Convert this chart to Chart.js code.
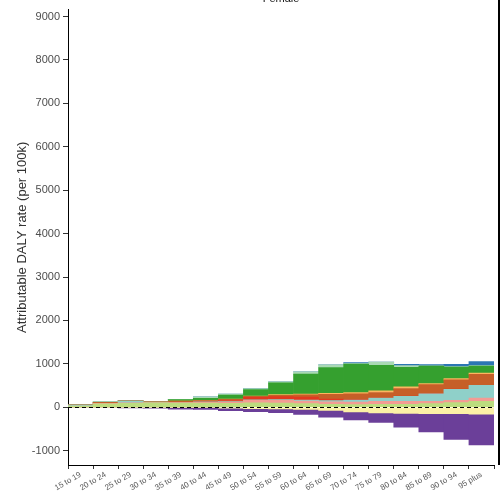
<!DOCTYPE html>
<html>
<head>
<meta charset="utf-8">
<script src="https://cdn.jsdelivr.net/npm/chart.js@4.4.1/dist/chart.umd.min.js"></script>
<style>
  html,body{margin:0;padding:0;background:#fff;}
  #wrap{width:500px;height:496px;}
</style>
</head>
<body>
<div id="wrap"><canvas id="c" width="500" height="496"></canvas></div>
<script>
const ageGroups = ["15 to 19","20 to 24","25 to 29","30 to 34","35 to 39","40 to 44","45 to 49","50 to 54","55 to 59",
  "60 to 64","65 to 69","70 to 74","75 to 79","80 to 84","85 to 89","90 to 94","95 plus"];

// positive risk layers, bottom to top
const yellowGreen = [30,80,90,100,95,95,90,100,95,85,70,62,69,69,84,107,137];
const salmon      = [0,10,10,10,15,20,30,60,65,60,53,60,69,69,53,53,76];
const lightTeal   = [20,0,45,10,0,10,10,10,15,20,30,45,75,115,175,252,290];
const red         = [0,0,0,0,0,10,25,60,70,70,38,10,5,5,5,5,5];
const brown       = [0,25,0,5,30,20,25,20,30,50,107,130,122,175,206,214,252];
const orangeLine  = [0,0,0,0,0,5,10,10,15,20,23,30,38,38,23,30,30];
const green       = [5,5,5,10,35,45,90,150,270,460,595,660,585,450,400,265,160];
const mint        = [0,0,0,0,5,38,25,20,25,50,60,10,75,38,10,10,10];
const blue        = [0,0,0,0,0,0,0,0,0,0,0,23,0,30,30,53,92];

// negative (protective) layers
const paleYellow  = [-5,-5,-5,-5,-10,-10,-20,-30,-40,-50,-70,-110,-130,-140,-150,-150,-160];
const purple      = [-5,-5,-10,-15,-35,-40,-60,-70,-85,-115,-160,-180,-220,-320,-420,-590,-710];

const yTicks = [-1000,0,1000,2000,3000,4000,5000,6000,7000,8000,9000];

const layers = [
  [yellowGreen,"#bcdc7e"],[salmon,"#f39c94"],[lightTeal,"#8fd0c9"],[red,"#e2381f"],
  [brown,"#c65f28"],[orangeLine,"#fdb55f"],[green,"#35a02f"],[mint,"#a9d9b4"],[blue,"#2c76b3"],
  [paleYellow,"#fcf1a6"],[purple,"#6b3f99"]
];

const FONT = "'Liberation Sans', Arial, sans-serif";

const zeroLine = {
  id:"zeroLine",
  afterDatasetsDraw(chart){
    const {ctx, chartArea:a, scales:{y}} = chart;
    const py = Math.round(y.getPixelForValue(0))+0.5;
    ctx.save();
    ctx.strokeStyle="#000"; ctx.lineWidth=1.2; ctx.setLineDash([4,3]);
    ctx.beginPath(); ctx.moveTo(a.left,py); ctx.lineTo(a.right,py); ctx.stroke();
    ctx.setLineDash([]);
    // edge of the neighbouring panel
    ctx.lineWidth=2;
    ctx.beginPath(); ctx.moveTo(499,0); ctx.lineTo(499,a.bottom); ctx.stroke();
    // cut-off panel title
    ctx.fillStyle="#111"; ctx.font="11px "+FONT;
    ctx.textAlign="center"; ctx.textBaseline="alphabetic";
    ctx.fillText("Female",(a.left+a.right)/2,2);
    ctx.restore();
  }
};

new Chart(document.getElementById("c"), {
  type:"bar",
  data:{
    labels: ageGroups,
    datasets: layers.map(([d,c])=>({data:d, backgroundColor:c, borderWidth:0, barPercentage:1, categoryPercentage:1}))
  },
  options:{
    responsive:false, animation:false,
    layout:{ padding:{ top:7, right:6, left:15, bottom:0 } },
    plugins:{ legend:{display:false}, tooltip:{enabled:false}, title:{display:false} },
    scales:{
      x:{
        stacked:true,
        grid:{ display:true, drawOnChartArea:false, drawTicks:true, tickLength:4, color:"#333" },
        border:{ color:"#000", width:1 },
        ticks:{ color:"#555", font:{ size:8, family:FONT }, minRotation:30, maxRotation:30, autoSkip:false, padding:1 },
        afterFit(s){ s.height = 31; }
      },
      y:{
        stacked:true, min:-1330, max:9160,
        afterBuildTicks(s){ s.ticks = yTicks.map(v=>({value:v})); },
        grid:{ display:true, drawOnChartArea:false, drawTicks:true, tickLength:5, color:"#333" },
        border:{ color:"#000", width:1 },
        ticks:{ color:"#4d4d4d", font:{ size:11, family:FONT }, padding:3, callback:v=>String(v) },
        title:{ display:true, text:"Attributable DALY rate (per 100k)", color:"#333", font:{ size:13, family:FONT }, padding:{top:0,bottom:0} },
        afterFit(s){ s.width = 53; }
      }
    }
  },
  plugins:[zeroLine]
});
</script>
</body>
</html>
